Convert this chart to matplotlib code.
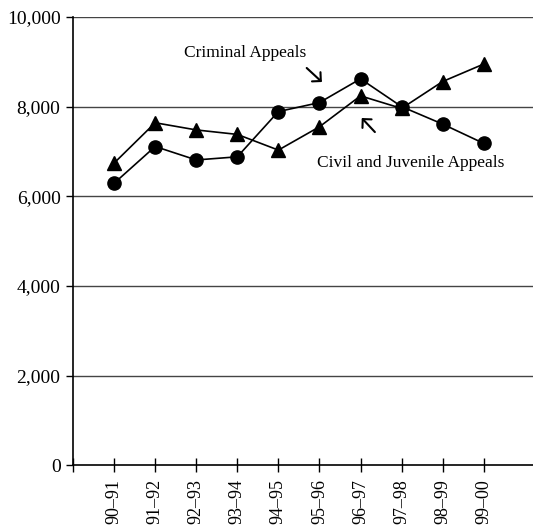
import matplotlib
matplotlib.use("Agg")
import matplotlib.pyplot as plt
from matplotlib.ticker import FuncFormatter

years = ["90–91", "91–92", "92–93", "93–94", "94–95", "95–96", "96–97", "97–98", "98–99", "99–00"]
criminal = [6290, 7110, 6810, 6880, 7890, 8090, 8620, 8000, 7610, 7180]
civil_juvenile = [6740, 7640, 7480, 7380, 7030, 7550, 8240, 7960, 8560, 8950]
yticks = [0, 2000, 4000, 6000, 8000, 10000]

plt.rcParams['font.family'] = ['Liberation Serif', 'DejaVu Serif']

fig = plt.figure(figsize=(5.33, 5.31), dpi=100)
ax = fig.add_axes([0.137, 0.124, 0.863, 0.844])

x = list(range(1, len(years) + 1))
ax.plot(x, criminal, color='black', lw=1.2, marker='o', markersize=9.5, zorder=3)
ax.plot(x, civil_juvenile, color='black', lw=1.2, marker='^', markersize=10, zorder=3)

ax.set_xlim(0, 11.2)
ax.set_ylim(0, 10000)
ax.set_yticks(yticks)
ax.yaxis.set_major_formatter(FuncFormatter(lambda v, p: f"{int(v):,}"))
for t in yticks[1:]:
    ax.axhline(t, color='#444444', lw=1.0, zorder=1)

ax.set_xticks([0] + x)
ax.set_xticklabels([""] + years, rotation=90, fontsize=13)
ax.tick_params(axis='x', direction='inout', length=10, width=1, pad=5)
ax.tick_params(axis='y', direction='out', length=5, width=1, labelsize=14, pad=4)

for s in ['top', 'right']:
    ax.spines[s].set_visible(False)
for s in ['left', 'bottom']:
    ax.spines[s].set_linewidth(1.2)

ax.text(4.18, 9196, "Criminal Appeals", fontsize=12.5, ha='center', va='center')
ax.text(8.22, 6741, "Civil and Juvenile Appeals", fontsize=12.5, ha='center', va='center')
arrow = dict(arrowstyle='->,head_length=0.45,head_width=0.45', lw=1.5, color='black',
             shrinkA=0, shrinkB=0)
ax.annotate('', xy=(6.06, 8549), xytext=(5.69, 8862), arrowprops=arrow)
ax.annotate('', xy=(7.03, 7746), xytext=(7.35, 7433), arrowprops=arrow)

fig.savefig("out.png", dpi=100)
